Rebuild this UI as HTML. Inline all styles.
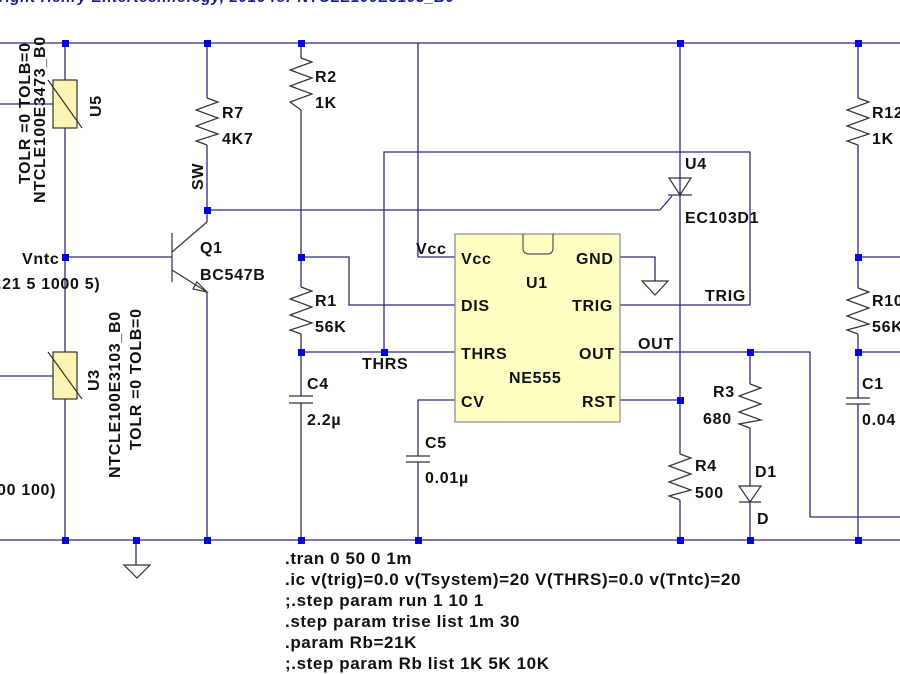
<!DOCTYPE html>
<html><head><meta charset="utf-8"><style>
html,body{margin:0;padding:0;background:#fff;width:900px;height:674px;overflow:hidden}
svg text{font-family:"Liberation Sans",Arial,sans-serif;font-weight:bold;font-size:16px;letter-spacing:0.7px;fill:#111}
svg text.cmd{font-size:17px;letter-spacing:0.6px}
</style></head><body>
<svg width="900" height="674" viewBox="0 0 900 674" xmlns="http://www.w3.org/2000/svg">
<text x="-10" y="2" style="fill:#1a1a8a;font-style:italic;font-size:15px">yright  Henry Entertechnology, 2016 for NTCLE100E3103_B0</text>
<g stroke="#2b2b7a" stroke-width="1.3" fill="none">
<line x1="0" y1="43" x2="900" y2="43"/>
<line x1="0" y1="540" x2="900" y2="540"/>
<line x1="65" y1="43" x2="65" y2="540"/>
<line x1="0" y1="104" x2="53" y2="104"/>
<line x1="0" y1="376" x2="53" y2="376"/>
<line x1="65" y1="257" x2="172" y2="257"/>
<line x1="136" y1="540" x2="136" y2="565"/>
<line x1="207" y1="43" x2="207" y2="98"/>
<line x1="207" y1="145" x2="207" y2="222"/>
<line x1="207" y1="292" x2="207" y2="540"/>
<line x1="207" y1="210" x2="660" y2="210"/>
<line x1="660" y1="210" x2="672" y2="196"/>
<line x1="301" y1="43" x2="301" y2="58"/>
<line x1="301" y1="110" x2="301" y2="287"/>
<line x1="301" y1="334" x2="301" y2="396"/>
<line x1="301" y1="403" x2="301" y2="540"/>
<polyline points="301,257 349,257 349,305 455,305"/>
<line x1="301" y1="352" x2="455" y2="352"/>
<polyline points="384,352 384,152 750,152 750,305 620,305"/>
<polyline points="418,43 418,257 455,257"/>
<polyline points="455,400 418,400 418,456"/>
<line x1="418" y1="462" x2="418" y2="540"/>
<polyline points="620,257 655,257 655,281"/>
<line x1="680" y1="43" x2="680" y2="454"/>
<line x1="680" y1="500" x2="680" y2="540"/>
<line x1="620" y1="400" x2="680" y2="400"/>
<polyline points="620,352 810,352 810,517 900,517"/>
<line x1="750" y1="352" x2="750" y2="384"/>
<line x1="750" y1="428" x2="750" y2="486"/>
<line x1="750" y1="502" x2="750" y2="540"/>
<line x1="858" y1="43" x2="858" y2="98"/>
<line x1="858" y1="145" x2="858" y2="288"/>
<line x1="858" y1="334" x2="858" y2="398"/>
<line x1="858" y1="404" x2="858" y2="540"/>
<line x1="858" y1="257" x2="900" y2="257"/>
<line x1="858" y1="352" x2="900" y2="352"/>
</g>
<g stroke="#333" stroke-width="1.2" fill="none">
<polyline points="207,98 218,102 196,110 218,118 196,126 218,134 196,141 207,145"/>
<polyline points="301,58 312,62 290,70 312,78 290,86 312,94 290,102 301,110"/>
<polyline points="301,287 312,291 290,299 312,307 290,315 312,323 290,330 301,334"/>
<polyline points="680,454 691,458 669,466 691,474 669,482 691,490 669,496 680,500"/>
<polyline points="750,384 761,388 739,396 761,404 739,412 761,420 739,424 750,428"/>
<polyline points="858,98 869,102 847,110 869,118 847,126 869,134 847,141 858,145"/>
<polyline points="858,288 869,292 847,300 869,308 847,316 869,324 847,330 858,334"/>
<line x1="289" y1="396" x2="313" y2="396"/><line x1="289" y1="403" x2="313" y2="403"/>
<line x1="406" y1="456" x2="430" y2="456"/><line x1="406" y1="462" x2="430" y2="462"/>
<line x1="846" y1="398" x2="870" y2="398"/><line x1="846" y1="404" x2="870" y2="404"/>
<line x1="172" y1="233" x2="172" y2="282"/>
<line x1="172" y1="252" x2="207" y2="222"/>
<line x1="172" y1="270" x2="207" y2="292"/>
<polygon points="207,292 193,289 197,282"/>
<polygon points="124,565 150,565 137,578"/>
<polygon points="642,281 668,281 655,295"/>
<polygon points="669,178 691,178 680,195"/>
<line x1="668" y1="195" x2="692" y2="195"/>
<polygon points="739,486 761,486 750,502"/>
<line x1="739" y1="502" x2="761" y2="502"/>
</g>
<g stroke="#333" stroke-width="1.2">
<rect x="53" y="80" width="24" height="48" fill="#fbf3b3"/>
<line x1="48" y1="80" x2="82" y2="128"/>
<rect x="53" y="352" width="24" height="47" fill="#fbf3b3"/>
<line x1="48" y1="352" x2="82" y2="399"/>
</g>
<rect x="455" y="234" width="165" height="188" fill="#ffffc4" stroke="#888" stroke-width="1.2"/>
<path d="M523,234 V248 Q523,254 529,254 H547 Q553,254 553,248 V234" fill="none" stroke="#555" stroke-width="1.2"/>
<g fill="#0000e0">
<rect x="62" y="40" width="7" height="7"/><rect x="204" y="40" width="7" height="7"/><rect x="298" y="40" width="7" height="7"/><rect x="677" y="40" width="7" height="7"/><rect x="855" y="40" width="7" height="7"/>
<rect x="62" y="537" width="7" height="7"/><rect x="133" y="537" width="7" height="7"/><rect x="204" y="537" width="7" height="7"/><rect x="298" y="537" width="7" height="7"/><rect x="415" y="537" width="7" height="7"/><rect x="677" y="537" width="7" height="7"/><rect x="747" y="537" width="7" height="7"/><rect x="855" y="537" width="7" height="7"/>
<rect x="62" y="254" width="7" height="7"/><rect x="204" y="207" width="7" height="7"/><rect x="298" y="254" width="7" height="7"/><rect x="298" y="349" width="7" height="7"/><rect x="381" y="349" width="7" height="7"/><rect x="677" y="397" width="7" height="7"/><rect x="747" y="349" width="7" height="7"/><rect x="855" y="254" width="7" height="7"/><rect x="855" y="349" width="7" height="7"/>
</g>
<text x="222" y="118">R7</text><text x="222" y="144">4K7</text>
<text transform="translate(203,190) rotate(-90)">SW</text>
<text x="200" y="253">Q1</text><text x="200" y="280">BC547B</text>
<text x="315" y="82">R2</text><text x="315" y="108">1K</text>
<text x="315" y="306">R1</text><text x="315" y="332">56K</text>
<text x="307" y="389">C4</text><text x="307" y="425">2.2µ</text>
<text x="362" y="369">THRS</text>
<text x="416" y="254">Vcc</text>
<text x="425" y="448">C5</text><text x="425" y="483">0.01µ</text>
<text x="461" y="264">Vcc</text><text x="461" y="311">DIS</text><text x="461" y="359">THRS</text><text x="461" y="407">CV</text>
<text x="576" y="264">GND</text><text x="572" y="311">TRIG</text><text x="579" y="359">OUT</text><text x="582" y="407">RST</text>
<text x="526" y="288">U1</text><text x="509" y="383">NE555</text>
<text x="685" y="169">U4</text><text x="685" y="223">EC103D1</text>
<text x="705" y="301">TRIG</text>
<text x="638" y="349">OUT</text>
<text x="713" y="397">R3</text><text x="703" y="424">680</text>
<text x="695" y="471">R4</text><text x="695" y="498">500</text>
<text x="755" y="477">D1</text><text x="757" y="524">D</text>
<text x="872" y="118">R12</text><text x="872" y="144">1K</text>
<text x="872" y="306">R10</text><text x="872" y="332">56K</text>
<text x="862" y="389">C1</text><text x="862" y="425">0.04</text>
<text x="22" y="264">Vntc</text>
<text x="-3" y="289">.21 5 1000 5)</text>
<text x="-3" y="495">00 100)</text>
<text transform="translate(30,184) rotate(-90)">TOLR =0 TOLB=0</text>
<text transform="translate(45,203) rotate(-90)">NTCLE100E3473_B0</text>
<text transform="translate(101,117) rotate(-90)">U5</text>
<text transform="translate(99,391) rotate(-90)">U3</text>
<text transform="translate(120,478) rotate(-90)">NTCLE100E3103_B0</text>
<text transform="translate(141,450) rotate(-90)">TOLR =0 TOLB=0</text>
<text class="cmd" x="285" y="564">.tran 0 50 0 1m</text>
<text class="cmd" x="285" y="585">.ic v(trig)=0.0 v(Tsystem)=20 V(THRS)=0.0 v(Tntc)=20</text>
<text class="cmd" x="285" y="606">;.step param run 1 10 1</text>
<text class="cmd" x="285" y="627">.step param trise list 1m 30</text>
<text class="cmd" x="285" y="648">.param Rb=21K</text>
<text class="cmd" x="285" y="669">;.step param Rb list 1K 5K 10K</text>
</svg>
</body></html>
